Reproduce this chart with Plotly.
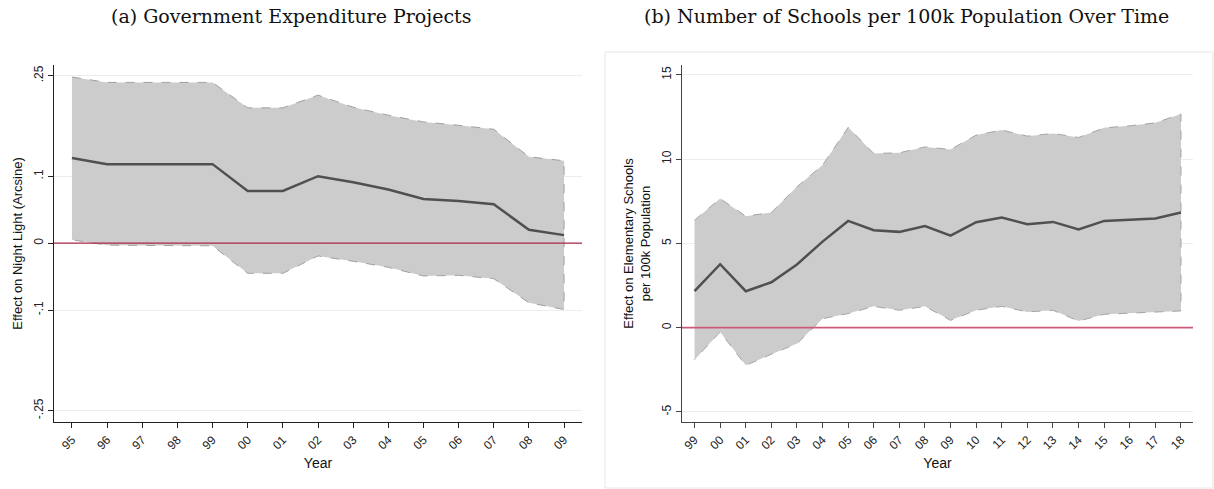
import plotly.graph_objects as go

# ---------------- Data ----------------
years_a = ["95", "96", "97", "98", "99", "00", "01", "02", "03", "04", "05", "06", "07", "08", "09"]
coef_a = [0.127, 0.118, 0.118, 0.118, 0.118, 0.078, 0.078, 0.100, 0.091, 0.080, 0.066, 0.063, 0.058, 0.020, 0.012]
upper_a = [0.248, 0.240, 0.240, 0.240, 0.240, 0.202, 0.202, 0.221, 0.203, 0.191, 0.181, 0.176, 0.170, 0.129, 0.123]
lower_a = [0.005, -0.003, -0.004, -0.004, -0.004, -0.045, -0.045, -0.019, -0.027, -0.036, -0.049, -0.048, -0.053, -0.089, -0.099]
yticks_a = [-0.25, -0.1, 0, 0.1, 0.25]
yticklabels_a = ["-.25", "-.1", "0", ".1", ".25"]

years_b = ["99", "00", "01", "02", "03", "04", "05", "06", "07", "08", "09",
           "10", "11", "12", "13", "14", "15", "16", "17", "18"]
coef_b = [2.17, 3.76, 2.16, 2.69, 3.75, 5.10, 6.33, 5.78, 5.68, 6.03, 5.46,
          6.25, 6.53, 6.13, 6.27, 5.82, 6.33, 6.41, 6.47, 6.83]
upper_b = [6.37, 7.66, 6.61, 6.83, 8.35, 9.64, 11.88, 10.33, 10.37, 10.72, 10.57,
           11.42, 11.72, 11.36, 11.52, 11.28, 11.85, 11.97, 12.15, 12.67]
lower_b = [-1.90, -0.26, -2.24, -1.58, -0.95, 0.53, 0.83, 1.26, 1.03, 1.26, 0.43,
           1.03, 1.26, 0.93, 1.03, 0.39, 0.79, 0.87, 0.91, 0.99]
yticks_b = [-5, 0, 5, 10, 15]

W, H = 1214, 489
OFF = 0  # page body margin removed via post_script


def px_x(p):
    return (p - OFF) / W


def px_y(p):
    return 1 - (p - OFF) / H


fig = go.Figure()

# ---- panel (a) ----
fig.add_trace(go.Scatter(
    x=years_a + years_a[::-1], y=upper_a + lower_a[::-1],
    fill="toself", fillcolor="rgb(204,204,204)", mode="lines",
    line=dict(color="rgb(160,160,160)", width=1, dash="dash"),
    xaxis="x", yaxis="y", showlegend=False, hoverinfo="skip"))
fig.add_trace(go.Scatter(
    x=years_a, y=coef_a, mode="lines",
    line=dict(color="rgb(80,80,80)", width=2.5),
    xaxis="x", yaxis="y", showlegend=False))

# ---- panel (b) ----
fig.add_trace(go.Scatter(
    x=years_b + years_b[::-1], y=upper_b + lower_b[::-1],
    fill="toself", fillcolor="rgb(204,204,204)", mode="lines",
    line=dict(color="rgb(165,165,165)", width=1, dash="dash"),
    xaxis="x2", yaxis="y2", showlegend=False, hoverinfo="skip"))
fig.add_trace(go.Scatter(
    x=years_b, y=coef_b, mode="lines",
    line=dict(color="rgb(80,80,80)", width=2.5),
    xaxis="x2", yaxis="y2", showlegend=False))

tickfont = dict(family="Liberation Sans, Arial, sans-serif", size=12, color="#222")
titlefont = dict(family="Liberation Sans, Arial, sans-serif", size=13, color="#111")

common_x = dict(type="category", showgrid=False, zeroline=False, showline=True,
                linecolor="#222", linewidth=1.2, ticks="outside", ticklen=5,
                tickcolor="#222", tickangle=-45, tickfont=tickfont, automargin=False)
common_y = dict(showgrid=True, gridcolor="#e9eeee", gridwidth=1, zeroline=False,
                showline=True, linecolor="#222", linewidth=1.2, ticks="outside",
                ticklen=5, tickcolor="#222", tickangle=-90, tickfont=tickfont,
                automargin=False)

ydom = [px_y(422), px_y(65)]

fig.update_layout(
    width=W, height=H,
    margin=dict(l=0, r=0, t=0, b=0),
    paper_bgcolor="white", plot_bgcolor="white",
    xaxis=dict(common_x, domain=[px_x(54), px_x(582)], range=[-0.51, 14.51],
               anchor="y",
               title=dict(text="Year", font=dict(titlefont, size=14), standoff=6)),
    yaxis=dict(common_y, domain=ydom, range=[-0.267, 0.266], anchor="x",
               tickvals=yticks_a, ticktext=yticklabels_a,
               title=dict(text="Effect on Night Light (Arcsine)", font=titlefont, standoff=6)),
    xaxis2=dict(common_x, domain=[px_x(682), px_x(1193)], range=[-0.49, 19.47],
                anchor="y2", linecolor="#444", tickcolor="#444",
                title=dict(text="Year", font=dict(titlefont, size=14), standoff=6)),
    yaxis2=dict(common_y, domain=ydom, range=[-5.6, 15.58], anchor="x2",
                linecolor="#444", tickcolor="#444",
                tickvals=yticks_b, ticktext=[str(v) for v in yticks_b],
                title=dict(text="Effect on Elementary Schools<br>per 100k Population",
                           font=titlefont, standoff=6)),
    shapes=[
        dict(type="line", xref="x domain", yref="y", x0=0, x1=1, y0=0, y1=0,
             line=dict(color="rgb(170,40,70)", width=1.3)),
        dict(type="line", xref="x2 domain", yref="y2", x0=0, x1=1, y0=0, y1=0,
             line=dict(color="rgb(205,90,120)", width=1.6)),
        dict(type="rect", xref="paper", yref="paper",
             x0=px_x(605), x1=px_x(1213), y0=px_y(488), y1=px_y(52),
             line=dict(color="#e6e6e6", width=1), layer="below"),
    ],
    annotations=[
        dict(text="(a) Government Expenditure Projects", xref="paper", yref="paper",
             x=px_x(291), y=px_y(16), xanchor="center", yanchor="middle", showarrow=False,
             font=dict(family="DejaVu Serif, serif", size=19, color="#111")),
        dict(text="(b) Number of Schools per 100k Population Over Time", xref="paper", yref="paper",
             x=px_x(906), y=px_y(16), xanchor="center", yanchor="middle", showarrow=False,
             font=dict(family="DejaVu Serif, serif", size=19, color="#111")),
    ],
)

fig.write_html("out.html",
               config={"displayModeBar": False},
               post_script="document.body.style.margin='0';document.body.style.padding='0';")
